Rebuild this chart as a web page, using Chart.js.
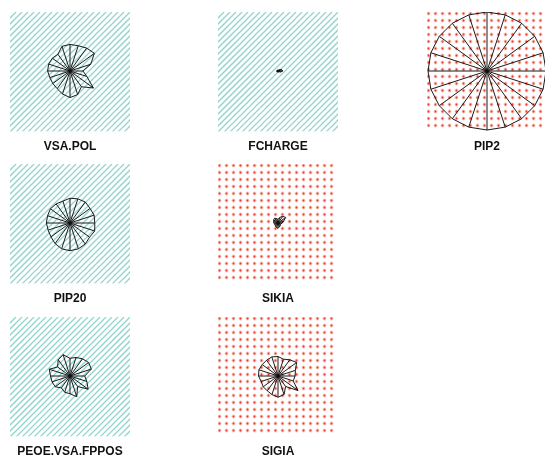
<!DOCTYPE html>
<html>
<head>
<meta charset="utf-8">
<script src="https://cdn.jsdelivr.net/npm/chart.js@4.4.1/dist/chart.umd.min.js"></script>
<style>
  html, body { margin: 0; padding: 0; background: #ffffff; }
  #wrap { position: relative; width: 545px; height: 458px; overflow: hidden; }
  #wrap canvas { position: absolute; }
</style>
</head>
<body>
<div id="wrap"></div>
<script>
// Twenty descriptor axes per star glyph, clockwise from the top
const spokes = ['1','2','3','4','5','6','7','8','9','10','11','12','13','14','15','16','17','18','19','20'];

// Glyph names (drawn under each glyph)
const names = ['VSA.POL', 'FCHARGE', 'PIP2', 'PIP20', 'SIKIA', 'PEOE.VSA.FPPOS', 'SIGIA'];

// Scaled values (0..1) along each axis
const vsaPol   = [0.45, 0.45, 0.48, 0.51, 0.37, 0.22, 0.30, 0.49, 0.33, 0.42, 0.45, 0.41, 0.37, 0.36, 0.36, 0.38, 0.38, 0.37, 0.35, 0.44];
const fcharge  = [0.01, 0.01, 0.02, 0.04, 0.07, 0.08, 0.05, 0.02, 0.01, 0.01, 0.01, 0.01, 0.01, 0.01, 0.02, 0.02, 0.01, 0.01, 0.01, 0.01];
const pip2     = [1, 1, 1, 1, 1, 1, 1, 1, 1, 1, 1, 1, 1, 1, 1, 1, 1, 1, 1, 1];
const pip20    = [0.42, 0.43, 0.44, 0.42, 0.43, 0.42, 0.44, 0.41, 0.44, 0.46, 0.47, 0.46, 0.43, 0.40, 0.39, 0.40, 0.40, 0.41, 0.40, 0.39];
const sikia    = [0.06, 0.10, 0.14, 0.16, 0.10, 0.07, 0.05, 0.05, 0.06, 0.07, 0.09, 0.08, 0.07, 0.06, 0.06, 0.07, 0.08, 0.09, 0.10, 0.08];
const peoeVsa  = [0.30, 0.33, 0.36, 0.39, 0.38, 0.25, 0.30, 0.38, 0.22, 0.37, 0.30, 0.29, 0.25, 0.31, 0.32, 0.33, 0.37, 0.26, 0.34, 0.38];
const sigia    = [0.33, 0.30, 0.34, 0.39, 0.31, 0.29, 0.27, 0.42, 0.22, 0.33, 0.36, 0.33, 0.31, 0.31, 0.30, 0.33, 0.34, 0.33, 0.33, 0.34];

const seriesList = [vsaPol, fcharge, pip2, pip20, sikia, peoeVsa, sigia];
const fills      = ['hatch', 'hatch', 'dots', 'hatch', 'dots', 'hatch', 'dots'];
const places     = [[10, 12], [218, 12], [427, 12], [10, 164], [218, 164], [10, 317], [218, 317]];

// Background texture painted behind each glyph
const texturePlugin = {
  id: 'texture',
  beforeDatasetsDraw(chart, args, opts) {
    const { ctx, chartArea: a } = chart;
    ctx.save();
    ctx.beginPath();
    ctx.rect(a.left, a.top, a.right - a.left, a.bottom - a.top);
    ctx.clip();
    if (opts.kind === 'hatch') {
      ctx.strokeStyle = '#8fd4cd';
      ctx.lineWidth = 1.25;
      const h = a.bottom - a.top;
      for (let x = a.left - h; x < a.right + h; x += 6) {
        ctx.beginPath();
        ctx.moveTo(x, a.bottom);
        ctx.lineTo(x + h, a.top);
        ctx.stroke();
      }
    } else {
      for (let y = a.top + 1.5; y < a.bottom; y += 7) {
        for (let x = a.left + 1.5; x < a.right; x += 7) {
          ctx.fillStyle = 'rgba(244,120,100,0.45)';
          ctx.beginPath(); ctx.arc(x, y, 1.9, 0, Math.PI * 2); ctx.fill();
          ctx.fillStyle = 'rgba(226,40,28,0.9)';
          ctx.beginPath(); ctx.arc(x, y, 0.9, 0, Math.PI * 2); ctx.fill();
        }
      }
    }
    ctx.restore();
  }
};

// Rays from the centre out to every vertex of the star
const raysPlugin = {
  id: 'rays',
  afterDatasetsDraw(chart) {
    const { ctx } = chart;
    const scale = chart.scales.r;
    const pts = chart.getDatasetMeta(0).data;
    ctx.save();
    ctx.strokeStyle = '#1a1a1a';
    ctx.lineWidth = 1;
    pts.forEach(p => {
      ctx.beginPath();
      ctx.moveTo(scale.xCenter, scale.yCenter);
      ctx.lineTo(p.x, p.y);
      ctx.stroke();
    });
    ctx.fillStyle = '#111';
    ctx.beginPath();
    ctx.arc(scale.xCenter, scale.yCenter, 1.6, 0, Math.PI * 2);
    ctx.fill();
    ctx.restore();
  }
};

const wrap = document.getElementById('wrap');
names.forEach((name, i) => {
  const cv = document.createElement('canvas');
  cv.width = 120;
  cv.height = 142;
  cv.style.left = places[i][0] + 'px';
  cv.style.top = places[i][1] + 'px';
  wrap.appendChild(cv);
  new Chart(cv, {
    type: 'radar',
    data: {
      labels: spokes,
      datasets: [{
        data: seriesList[i],
        borderColor: '#1a1a1a',
        borderWidth: 1,
        backgroundColor: 'rgba(0,0,0,0)',
        fill: false,
        pointRadius: 0,
        pointHitRadius: 0
      }]
    },
    options: {
      responsive: false,
      animation: false,
      devicePixelRatio: 1,
      layout: { padding: 0 },
      scales: {
        r: { min: 0, max: 1, display: false }
      },
      plugins: {
        legend: { display: false },
        tooltip: { enabled: false },
        title: {
          display: true,
          text: name,
          position: 'bottom',
          color: '#111',
          padding: { top: 8, bottom: 0 },
          font: { family: "'Liberation Sans', Arial, sans-serif", size: 12, weight: 'bold' }
        },
        texture: { kind: fills[i] }
      }
    },
    plugins: [texturePlugin, raysPlugin]
  });
});
</script>
</body>
</html>
